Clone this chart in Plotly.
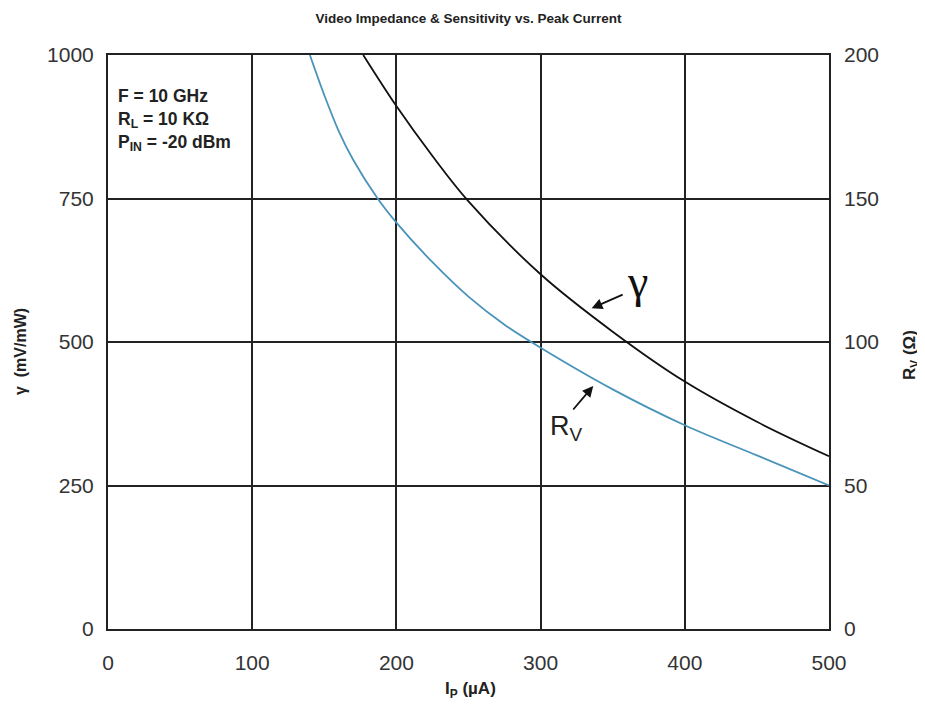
import plotly.graph_objects as go

# Data
gamma_ip = [177, 200, 225, 250, 300, 350, 400, 450, 500]
gamma_val = [1000, 911, 824, 745, 618, 518, 431, 361, 301]

rv_ip = [140, 150, 160, 170, 187, 200, 225, 250, 275, 300, 350, 400, 450, 500]
rv_val = [200, 186, 173.5, 163.5, 150, 141.6, 127.8, 115.8, 106, 98, 83.5, 71, 60.5, 50]

x_ticks = [0, 100, 200, 300, 400, 500]
y_left_ticks = [0, 250, 500, 750, 1000]
y_right_ticks = [0, 50, 100, 150, 200]

TICKFONT = dict(family="Liberation Sans, Arial, sans-serif", size=21, color="#333333")
BOLD = "Liberation Sans, Arial, sans-serif"

fig = go.Figure()
fig.add_trace(go.Scatter(x=gamma_ip, y=gamma_val, mode="lines",
                         line=dict(color="#111111", width=1.8, shape="spline", smoothing=1),
                         showlegend=False, yaxis="y"))
fig.add_trace(go.Scatter(x=rv_ip, y=rv_val, mode="lines",
                         line=dict(color="#4A93BA", width=1.8, shape="spline", smoothing=1),
                         showlegend=False, yaxis="y2"))

fig.update_layout(
    width=925, height=709,
    margin=dict(l=100, r=104, t=47, b=88),
    paper_bgcolor="white", plot_bgcolor="white",
    title=dict(text="<b>Video Impedance & Sensitivity vs. Peak Current</b>",
               x=0.5, xref="paper", xanchor="center", y=1 - 10 / 709, yanchor="middle",
               font=dict(family=BOLD, size=13.5, color="#222222")),
    xaxis=dict(range=[0, 500], tickvals=x_ticks, ticks="", showgrid=True,
               gridcolor="#222222", gridwidth=2, showline=True, linecolor="#222222",
               linewidth=2, mirror=True, zeroline=False, tickfont=TICKFONT,
               ticklabelstandoff=14),
    yaxis=dict(range=[0, 1000], tickvals=y_left_ticks, ticks="", showgrid=True,
               gridcolor="#222222", gridwidth=2, showline=True, linecolor="#222222",
               linewidth=2, mirror=True, zeroline=False, tickfont=TICKFONT,
               ticklabelstandoff=8),
    yaxis2=dict(range=[0, 200], tickvals=y_right_ticks, ticks="", overlaying="y",
                side="right", showgrid=False, zeroline=False, showline=False,
                tickfont=TICKFONT, ticklabelstandoff=14),
)

annotations = [
    dict(text="<b>F = 10 GHz<br>R<sub>L</sub> = 10 KΩ<br>P<sub>IN</sub> = -20 dBm</b>",
         xref="paper", yref="paper", x=(116 - 108) / 721, y=(629 - 84) / 574,
         xanchor="left", yanchor="top", align="left", showarrow=False,
         font=dict(family=BOLD, size=17.5, color="#222222")),
    dict(text="<b>γ  (mV/mW)</b>", xref="paper", yref="paper",
         x=(20 - 108) / 721, y=(629 - 352) / 574, textangle=-90, showarrow=False,
         xanchor="center", yanchor="middle",
         font=dict(family=BOLD, size=16, color="#222222")),
    dict(text="<b>R<sub>V</sub> (Ω)</b>", xref="paper", yref="paper",
         x=(911 - 108) / 721, y=(629 - 355) / 574, textangle=-90, showarrow=False,
         xanchor="center", yanchor="middle",
         font=dict(family=BOLD, size=17, color="#222222")),
    dict(text="<b>I<sub>P</sub> (µA)</b>", xref="paper", yref="paper",
         x=(470 - 108) / 721, y=(629 - 690) / 574, showarrow=False,
         xanchor="center", yanchor="middle",
         font=dict(family=BOLD, size=17, color="#222222")),
    dict(text="γ", x=367.5, y=606, xref="x", yref="y", showarrow=False,
         font=dict(family="Liberation Serif, DejaVu Serif, serif", size=46, color="#111111")),
    dict(text="R<sub>V</sub>", x=318.3, y=350, xref="x", yref="y", showarrow=False,
         font=dict(family="Liberation Sans, Arial, sans-serif", size=27, color="#222222")),
    dict(text=" ", x=335.4, y=558.7, xref="x", yref="y", ax=34, ay=-15,
         showarrow=True, arrowhead=2, arrowsize=1.2, arrowwidth=1.8, arrowcolor="#111111"),
    dict(text=" ", x=336.5, y=423.3, xref="x", yref="y", ax=-23, ay=27,
         showarrow=True, arrowhead=2, arrowsize=1.2, arrowwidth=1.8, arrowcolor="#111111"),
]
fig.update_layout(annotations=annotations)

fig.write_html("out.html")
